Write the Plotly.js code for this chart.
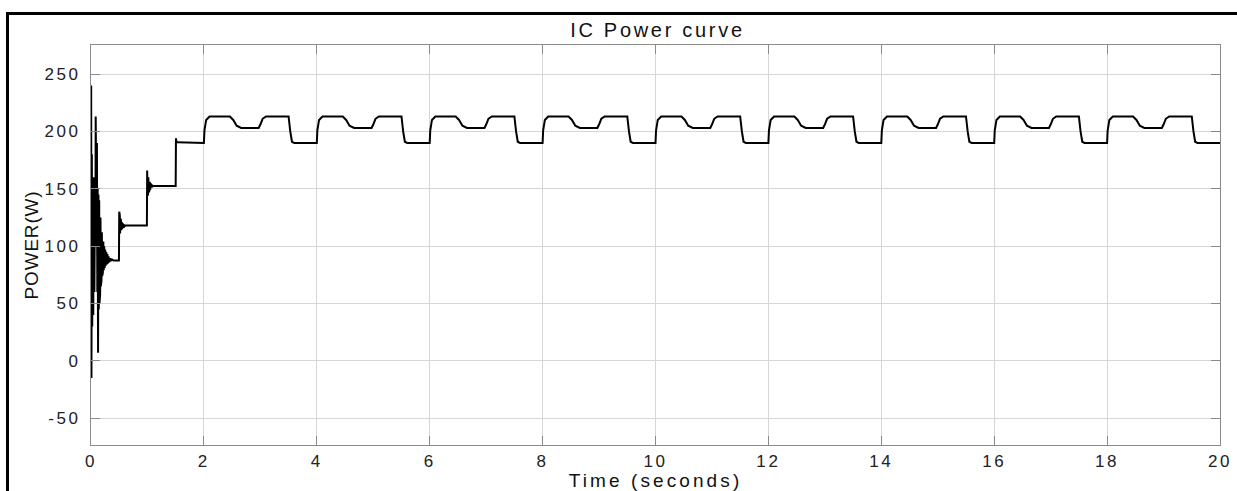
<!DOCTYPE html>
<html>
<head>
<meta charset="utf-8">
<script src="https://cdn.plot.ly/plotly-3.0.1.min.js"></script>
<style>
  html, body { margin: 0; padding: 0; background: #fff; }
  #chart { width: 1237px; height: 491px; position: absolute; left: 0; top: 0; }
  #frame { position: absolute; left: 6px; top: 12px; width: 1240px; height: 490px;
           border-left: 3px solid #000; border-top: 3px solid #000; pointer-events: none; }
  .main-svg .xtick text, .main-svg .ytick text { letter-spacing: 2.6px; }
  .main-svg .gtitle { letter-spacing: 2.7px; }
  .main-svg .xtitle { letter-spacing: 3.1px; }
  .main-svg .ytitle { letter-spacing: 0.8px; }
</style>
</head>
<body>
<div id="chart"></div>
<div id="frame"></div>
<script>
// ---- Data (time in seconds, power in W) ----
var chartTitle = "IC Power curve";
var xLabel = "Time (seconds)";
var yLabel = "POWER(W)";
var xTicks = [0, 2, 4, 6, 8, 10, 12, 14, 16, 18, 20];
var yTicks = [-50, 0, 50, 100, 150, 200, 250];

// start-up transient (0 - 2 s)
var timeStart = [
  0.000, 0.003, 0.008, 0.015, 0.022, 0.030, 0.040, 0.050, 0.060, 0.070,
  0.078, 0.083, 0.090, 0.098, 0.105, 0.112, 0.118, 0.125, 0.132, 0.138,
  0.145, 0.150, 0.156, 0.162, 0.168, 0.174, 0.180, 0.186, 0.192, 0.198,
  0.204, 0.210, 0.218, 0.226, 0.234, 0.242, 0.250, 0.260, 0.270, 0.280,
  0.290, 0.300, 0.310, 0.322, 0.335, 0.350, 0.370, 0.400, 0.495,
  0.500, 0.505, 0.510, 0.515, 0.520, 0.526, 0.532, 0.538, 0.545, 0.552,
  0.560, 0.568, 0.578, 0.590, 0.610, 0.990,
  0.995, 1.000, 1.005, 1.010, 1.016, 1.022, 1.028, 1.034, 1.041, 1.048,
  1.056, 1.065, 1.075, 1.090, 1.110, 1.500,
  1.505, 1.515, 1.530
];
var powerStart = [
  40, 240, -15, 180, 30, 150, 40, 160, 60, 150,
  100, 213, 170, 120, 190, 60, 150, 7, 145, 45,
  140, 50, 132, 58, 125, 65, 118, 70, 112, 74,
  108, 77, 104, 79, 100, 81, 97, 83, 95, 84,
  93, 85, 91, 86, 89.5, 87, 88.5, 87.5, 87.5,
  130, 108, 127, 111, 124, 113, 122, 114, 121, 115,
  120, 116, 119, 117, 118, 118,
  166, 144, 163, 145, 160, 147, 158, 148, 156, 149,
  155, 151, 153.5, 152, 152.5, 152.5,
  194, 190.5, 190.5
];

// periodic part (2 - 20 s), one row per 2 s cycle
var timePeriodic = [
  2.00, 2.01, 2.04, 2.10, 2.46, 2.52, 2.58, 2.66, 2.97, 3.00, 3.04, 3.10, 3.50, 3.53, 3.56, 3.60,
  4.00, 4.01, 4.04, 4.10, 4.46, 4.52, 4.58, 4.66, 4.97, 5.00, 5.04, 5.10, 5.50, 5.53, 5.56, 5.60,
  6.00, 6.01, 6.04, 6.10, 6.46, 6.52, 6.58, 6.66, 6.97, 7.00, 7.04, 7.10, 7.50, 7.53, 7.56, 7.60,
  8.00, 8.01, 8.04, 8.10, 8.46, 8.52, 8.58, 8.66, 8.97, 9.00, 9.04, 9.10, 9.50, 9.53, 9.56, 9.60,
  10.00, 10.01, 10.04, 10.10, 10.46, 10.52, 10.58, 10.66, 10.97, 11.00, 11.04, 11.10, 11.50, 11.53, 11.56, 11.60,
  12.00, 12.01, 12.04, 12.10, 12.46, 12.52, 12.58, 12.66, 12.97, 13.00, 13.04, 13.10, 13.50, 13.53, 13.56, 13.60,
  14.00, 14.01, 14.04, 14.10, 14.46, 14.52, 14.58, 14.66, 14.97, 15.00, 15.04, 15.10, 15.50, 15.53, 15.56, 15.60,
  16.00, 16.01, 16.04, 16.10, 16.46, 16.52, 16.58, 16.66, 16.97, 17.00, 17.04, 17.10, 17.50, 17.53, 17.56, 17.60,
  18.00, 18.01, 18.04, 18.10, 18.46, 18.52, 18.58, 18.66, 18.97, 19.00, 19.04, 19.10, 19.50, 19.53, 19.56, 19.60,
  20.00
];
var powerPeriodic = [
  190, 201, 210, 213, 213, 210, 205, 203, 203, 206, 211, 213, 213, 200, 191, 190,
  190, 201, 210, 213, 213, 210, 205, 203, 203, 206, 211, 213, 213, 200, 191, 190,
  190, 201, 210, 213, 213, 210, 205, 203, 203, 206, 211, 213, 213, 200, 191, 190,
  190, 201, 210, 213, 213, 210, 205, 203, 203, 206, 211, 213, 213, 200, 191, 190,
  190, 201, 210, 213, 213, 210, 205, 203, 203, 206, 211, 213, 213, 200, 191, 190,
  190, 201, 210, 213, 213, 210, 205, 203, 203, 206, 211, 213, 213, 200, 191, 190,
  190, 201, 210, 213, 213, 210, 205, 203, 203, 206, 211, 213, 213, 200, 191, 190,
  190, 201, 210, 213, 213, 210, 205, 203, 203, 206, 211, 213, 213, 200, 191, 190,
  190, 201, 210, 213, 213, 210, 205, 203, 203, 206, 211, 213, 213, 200, 191, 190,
  190
];

var time = timeStart.concat(timePeriodic);
var power = powerStart.concat(powerPeriodic);

var fontFam = "'Liberation Sans', Arial, Helvetica, sans-serif";

var trace = {
  x: time, y: power, type: 'scatter', mode: 'lines',
  line: { color: '#000000', width: 2 },
  hoverinfo: 'skip'
};

var axisCommon = {
  showgrid: true, gridcolor: '#d6d6d6', gridwidth: 1,
  zeroline: false, showline: true, linecolor: '#8a8a8a', linewidth: 1,
  mirror: 'ticks', ticks: 'inside', ticklen: 9, tickcolor: '#8a8a8a', tickwidth: 1,
  tickfont: { family: fontFam, size: 17, color: '#222222' },
  automargin: false
};

var layout = {
  width: 1237, height: 491,
  margin: { l: 91, r: 17, t: 45, b: 46 },
  paper_bgcolor: '#ffffff', plot_bgcolor: '#ffffff',
  showlegend: false,
  title: { text: chartTitle, x: 0.5315, xanchor: 'center', y: 0.939, yanchor: 'middle',
           yref: 'container',
           font: { family: fontFam, size: 20, color: '#111111' } },
  xaxis: Object.assign({}, axisCommon, {
    range: [0, 20], tickmode: 'array', tickvals: xTicks, ticktext: xTicks.map(String),
    ticklabelstandoff: 1,
    title: { text: xLabel, standoff: 2, font: { family: fontFam, size: 19, color: '#111111' } }
  }),
  yaxis: Object.assign({}, axisCommon, {
    range: [-73.3, 275.3], tickmode: 'array', tickvals: yTicks, ticktext: yTicks.map(String),
    ticklabelstandoff: 6,
    title: { text: yLabel, standoff: 8, font: { family: fontFam, size: 19, color: '#111111' } }
  })
};

Plotly.newPlot('chart', [trace], layout, { staticPlot: true, displayModeBar: false });
</script>
</body>
</html>
